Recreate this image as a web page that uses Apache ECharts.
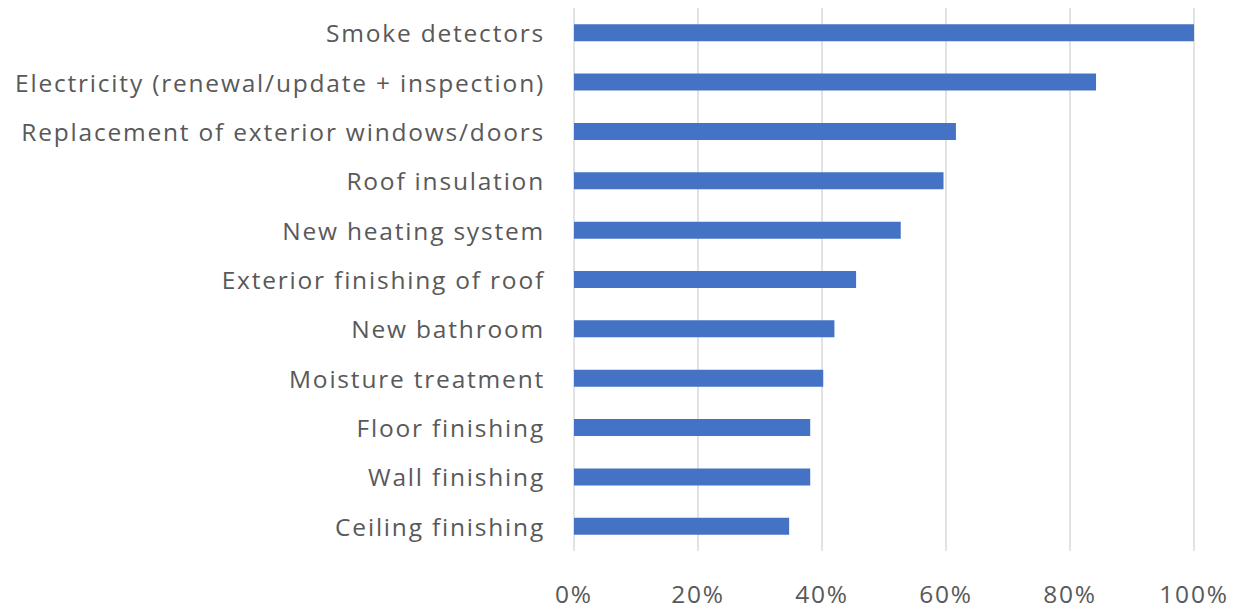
<!DOCTYPE html>
<html><head><meta charset="utf-8">
<script src="https://cdn.jsdelivr.net/npm/echarts@6/dist/echarts.min.js"></script>
<style>html,body{margin:0;padding:0;background:#fff}#c{width:1235px;height:610px}#c svg text{letter-spacing:1.8px}</style>
</head><body><div id="c"></div>
<script>
const categories = ["Smoke detectors","Electricity (renewal/update + inspection)","Replacement of exterior windows/doors","Roof insulation","New heating system","Exterior finishing of roof","New bathroom","Moisture treatment","Floor finishing","Wall finishing","Ceiling finishing"];
const values = [100, 84.2, 61.6, 59.6, 52.7, 45.5, 42.0, 40.2, 38.1, 38.1, 34.7];
const xTicks = [0, 20, 40, 60, 80, 100];

const chart = echarts.init(document.getElementById('c'), null, {renderer:'svg'});
const font = '"Open Sans", "Liberation Sans", sans-serif';
chart.setOption({
  animation:false,
  grid:{left:574, right:41, top:8, bottom:59, containLabel:false},
  xAxis:{type:'value', min:xTicks[0], max:xTicks[xTicks.length-1], interval:20,
    axisLine:{show:false}, axisTick:{show:false},
    splitLine:{show:true, lineStyle:{color:'#d9d9d9', width:1.5}},
    axisLabel:{formatter:v=>v+'%', color:'#595959', fontSize:24.5, fontFamily:font, margin:30}},
  yAxis:{type:'category', inverse:true, data:categories,
    axisLine:{show:false}, axisTick:{show:false},
    axisLabel:{color:'#595959', fontSize:24.5, fontFamily:font, margin:29}},
  series:[{type:'bar', data:values, barWidth:17, itemStyle:{color:'#4472C4'}}]
});
</script></body></html>
